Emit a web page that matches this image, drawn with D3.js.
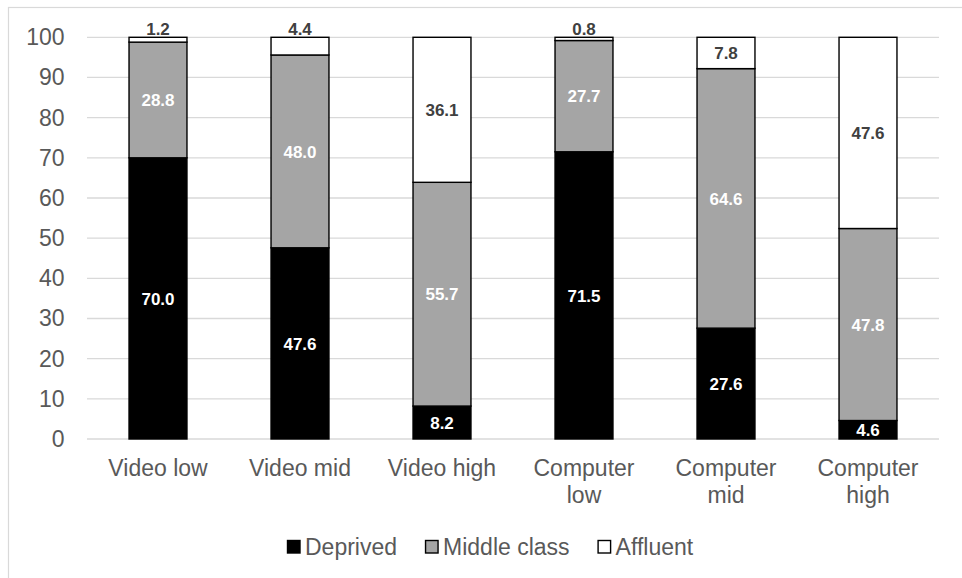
<!DOCTYPE html>
<html>
<head>
<meta charset="utf-8">
<script src="https://cdn.jsdelivr.net/npm/d3@7"></script>
<style>
  html, body { margin: 0; padding: 0; background: #fff; overflow: hidden; }
  svg { display: block; font-family: Arial, "Liberation Sans", sans-serif; }
</style>
</head>
<body>
<svg id="chart" width="962" height="578"></svg>
<script>
// Share of each group (%) by category
const categories = ["Video low", "Video mid", "Video high", "Computer low", "Computer mid", "Computer high"];
const seriesNames = ["Deprived", "Middle class", "Affluent"];
const deprived    = [70.0, 47.6, 8.2, 71.5, 27.6, 4.6];
const middleClass = [28.8, 48.0, 55.7, 27.7, 64.6, 47.8];
const affluent    = [1.2, 4.4, 36.1, 0.8, 7.8, 47.6];
const yTicks = [0, 10, 20, 30, 40, 50, 60, 70, 80, 90, 100];

const fills = ["#000000", "#a5a5a5", "#ffffff"];
const labelColors = ["#ffffff", "#ffffff", "#404040"];

const svg = d3.select("#chart");
const plot = { left: 87, right: 939, top: 37.3, bottom: 439 };

// chart area border
svg.append("rect")
  .attr("x", 8.5).attr("y", 7.5)
  .attr("width", 1200).attr("height", 1200)
  .attr("fill", "none").attr("stroke", "#d9d9d9").attr("stroke-width", 1.2);

const x = d3.scaleBand().domain(categories).range([plot.left, plot.right]).paddingInner(0.592).paddingOuter(0.296);
const y = d3.scaleLinear().domain([0, 100]).range([plot.bottom, plot.top]);

// gridlines
svg.append("g").selectAll("line").data(yTicks).join("line")
  .attr("x1", plot.left).attr("x2", plot.right)
  .attr("y1", d => y(d)).attr("y2", d => y(d))
  .attr("stroke", "#d9d9d9").attr("stroke-width", 1.3);

// y axis labels
const yAxis = d3.axisLeft(y).tickValues(yTicks).tickSize(0).tickPadding(0).tickFormat(d3.format("d"));
const gy = svg.append("g").attr("transform", `translate(${64.5},0)`).call(yAxis);
gy.select(".domain").remove();
gy.selectAll("text").attr("fill", "#595959").style("font-size", "23px").attr("font-family", null);

// stacked data
const rows = categories.map((c, i) => ({ cat: c, "Deprived": deprived[i], "Middle class": middleClass[i], "Affluent": affluent[i] }));
const stack = d3.stack().keys(seriesNames)(rows);

const layers = svg.append("g").selectAll("g").data(stack).join("g")
  .attr("fill", (d, i) => fills[i]);

layers.selectAll("rect").data(d => d).join("rect")
  .attr("x", d => x(d.data.cat))
  .attr("width", x.bandwidth())
  .attr("y", d => y(d[1]))
  .attr("height", d => y(d[0]) - y(d[1]))
  .attr("stroke", "#000").attr("stroke-width", 1.4);

// value labels: thin top segments get their label above the bar
const lbl = svg.append("g").style("font-weight", "bold").style("font-size", "17px");
stack.forEach((layer, si) => {
  const isTop = si === stack.length - 1;
  layer.forEach(d => {
    const v = d[1] - d[0];
    const above = isTop && v < 5;
    const cy = above ? y(d[1]) - 8 : y((d[0] + d[1]) / 2);
    lbl.append("text")
      .attr("x", x(d.data.cat) + x.bandwidth() / 2)
      .attr("y", cy)
      .attr("dy", "0.36em")
      .attr("text-anchor", "middle")
      .attr("fill", labelColors[si])
      .text(v.toFixed(1));
  });
});

// category labels (two-word "Computer" labels wrap onto two lines)
const xg = svg.append("g").style("font-size", "23px").attr("fill", "#595959");
categories.forEach(c => {
  const lines = c.startsWith("Computer") ? c.split(" ") : [c];
  const cx = x(c) + x.bandwidth() / 2;
  const t = xg.append("text").attr("x", cx).attr("y", 468).attr("text-anchor", "middle");
  lines.forEach((ln, i) => {
    t.append("tspan").attr("x", cx).attr("dy", i === 0 ? "0.36em" : "27px").text(ln);
  });
});

// legend
const leg = svg.append("g").style("font-size", "23px");
let lx = 287;
seriesNames.forEach((name, i) => {
  leg.append("rect")
    .attr("x", lx + 0.5).attr("y", 540.5)
    .attr("width", 12.5).attr("height", 12.5)
    .attr("fill", fills[i]).attr("stroke", "#000").attr("stroke-width", 1.4);
  const t = leg.append("text")
    .attr("x", lx + 18).attr("y", 547).attr("dy", "0.36em")
    .attr("fill", "#595959").text(name);
  lx += 18 + t.node().getComputedTextLength() + 28;
});
</script>
</body>
</html>
